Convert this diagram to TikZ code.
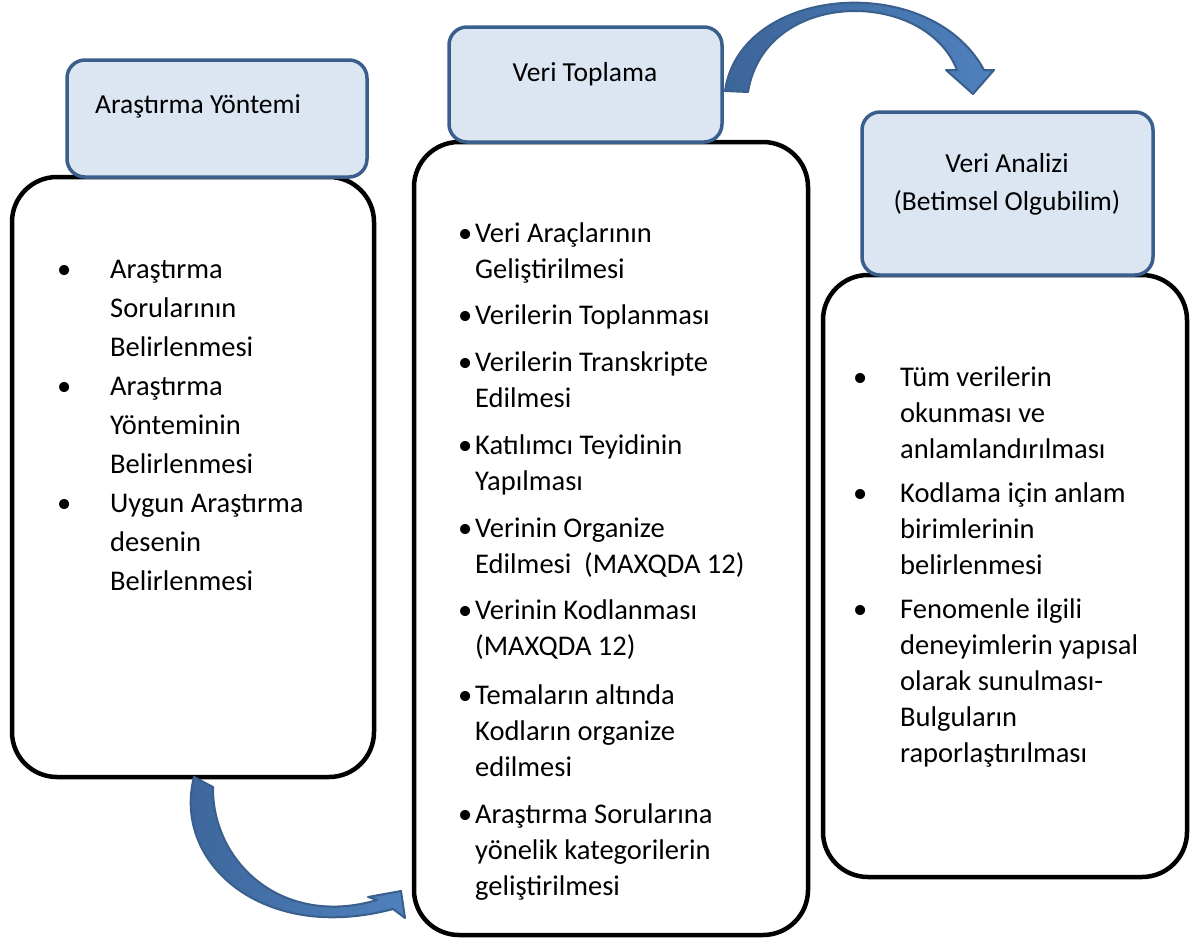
\documentclass[tikz,border=0pt]{standalone}
\usepackage{fontspec}
\setmainfont{Carlito}
\definecolor{hdrfill}{HTML}{DCE6F2}
\definecolor{hdrline}{HTML}{3A5F8C}
\definecolor{arrfill}{HTML}{4F81BD}
\definecolor{arrdark}{HTML}{3C659A}
\newcommand\bul[1]{\llap{\makebox[#1][l]{•}}}
\tikzset{
  body/.style={draw=black, line width=4.5pt, rounded corners=45pt, fill=white, inner sep=0pt, outer sep=0pt},
  header/.style={draw=hdrline, line width=3.5pt, rounded corners=18pt, fill=hdrfill, inner sep=0pt, outer sep=0pt},
  itemA/.style={anchor=north west, inner sep=0pt, align=left, font=\fontsize{28.5}{39}\selectfont},
  itemB/.style={anchor=north west, inner sep=0pt, align=left, font=\fontsize{28.5}{36}\selectfont},
  htext/.style={inner sep=0pt, font=\fontsize{27.5}{38}\selectfont},
  bigarrow/.style={draw=hdrline, line width=2pt, line join=round, left color=arrdark, right color=arrfill}
}
\begin{document}
\begin{tikzpicture}[x=1pt,y=-1pt]
\useasboundingbox (0,0) rectangle (1194,951);
% bodies
\node[body, minimum width=362pt, minimum height=600pt] (b1) at (193,477) {};
\node[body, minimum width=394pt, minimum height=793pt] (b2) at (611,538.5) {};
\node[body, minimum width=364pt, minimum height=602pt] (b3) at (1005,576) {};
% headers
\node[header, minimum width=300pt, minimum height=117pt] (h1) at (217,118.5) {};
\node[header, minimum width=273pt, minimum height=115pt] (h2) at (585.5,84.5) {};
\node[header, minimum width=291pt, minimum height=163pt] (h3) at (1007.5,193.5) {};
% header texts
\node[htext, anchor=base west] (t1) at (95,113) {Araştırma Yöntemi};
\node[htext, anchor=base] (t2) at (585,81) {Veri Toplama};
\node[htext, anchor=north, align=center] (t3) at (1007,145.4) {\strut Veri Analizi\\(Betimsel Olgubilim)};
% box 1 items
\node[itemA] (a1) at (110,250.7) {\bul{53pt}\strut Araştırma\\Sorularının\\Belirlenmesi};
\node[itemA] (a2) at (110,367.7) {\bul{53pt}\strut Araştırma\\Yönteminin\\Belirlenmesi};
\node[itemA] (a3) at (110,484.7) {\bul{53pt}\strut Uygun Araştırma\\desenin\\Belirlenmesi};
% box 2 items
\node[itemB] (c1) at (475,216.8) {\bul{17pt}\strut Veri Araçlarının\\Geliştirilmesi};
\node[itemB] (c2) at (475,298.8) {\bul{17pt}\strut Verilerin Toplanması};
\node[itemB] (c3) at (475,345.8) {\bul{17pt}\strut Verilerin Transkripte\\Edilmesi};
\node[itemB] (c4) at (475,428.8) {\bul{17pt}\strut Katılımcı Teyidinin\\Yapılması};
\node[itemB] (c5) at (475,511.8) {\bul{17pt}\strut Verinin Organize\\Edilmesi~~(MAXQDA 12)};
\node[itemB] (c6) at (475,593.8) {\bul{17pt}\strut Verinin Kodlanması\\(MAXQDA 12)};
\node[itemB] (c7) at (475,678.8) {\bul{17pt}\strut Temaların altında\\Kodların organize\\edilmesi};
\node[itemB] (c8) at (475,797.8) {\bul{17pt}\strut Araştırma Sorularına\\yönelik kategorilerin\\geliştirilmesi};
% box 3 items
\node[itemB] (d1) at (900,360.8) {\bul{47pt}\strut Tüm verilerin\\okunması ve\\anlamlandırılması};
\node[itemB] (d2) at (900,476.8) {\bul{47pt}\strut Kodlama için anlam\\birimlerinin\\belirlenmesi};
\node[itemB] (d3) at (900,592.8) {\bul{47pt}\strut Fenomenle ilgili\\deneyimlerin yapısal\\olarak sunulması-\\Bulguların\\raporlaştırılması};
% top curved arrow (Veri Toplama -> Veri Analizi)
\path[bigarrow] (725,91) .. controls (740,-15) and (930,-30) .. (984,70)
  -- (994,70) -- (973,94) -- (946,70) -- (957,70)
  .. controls (925,-12) and (765,-12) .. (748,92) -- cycle;
% bottom curved arrow (Araştırma Yöntemi -> Veri Toplama)
\path[bigarrow] (194,777) .. controls (172,862) and (262,944) .. (393,909)
  -- (405,918) -- (401,891) -- (368,897) -- (377,900)
  .. controls (282,928) and (212,862) .. (213,787) -- cycle;
\end{tikzpicture}
\end{document}
